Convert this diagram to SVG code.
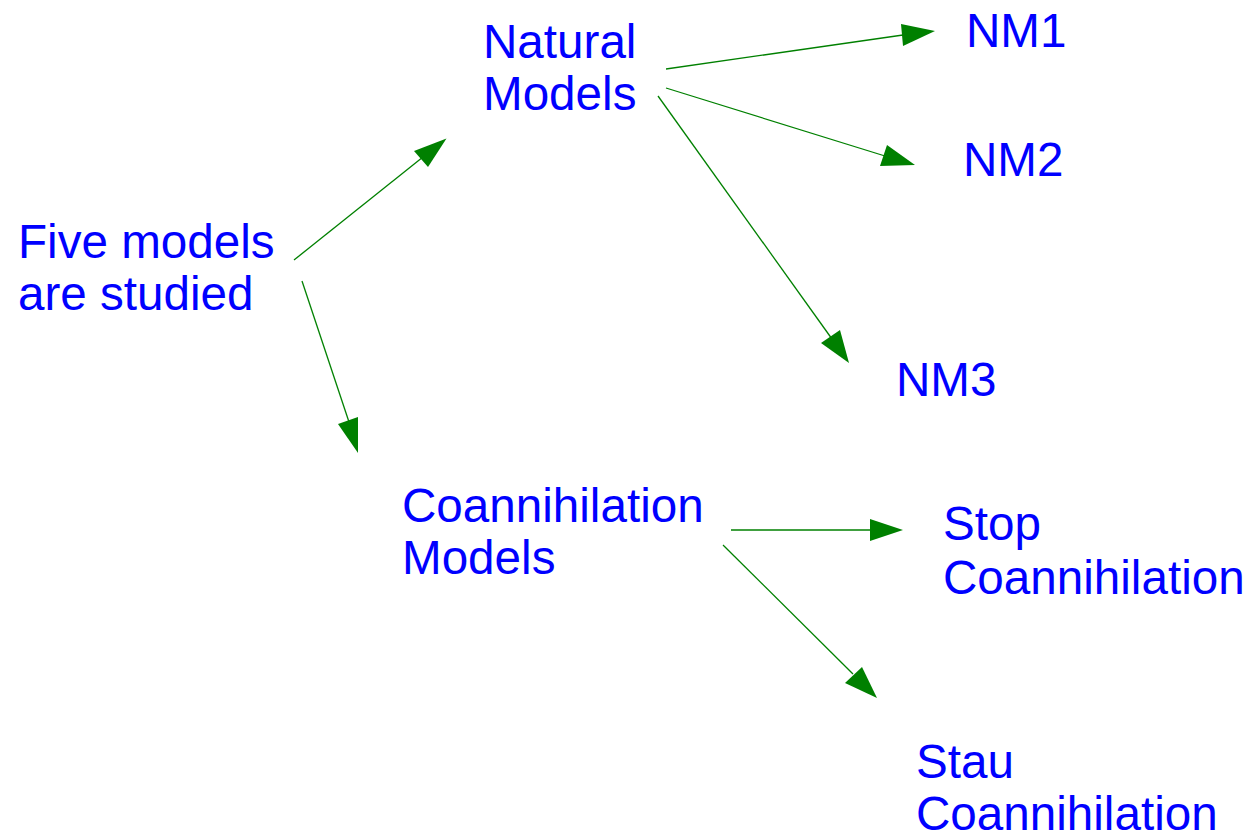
<svg xmlns="http://www.w3.org/2000/svg" width="1250" height="838" viewBox="0 0 1250 838">
<style>
.t{font-family:"Liberation Sans",Arial,sans-serif;font-size:47.6px;fill:#0000ff}
.c{stroke:#008000;stroke-width:1.3;fill:none}
.h{fill:#008000;stroke:none}
</style>
<rect width="1250" height="838" fill="#ffffff"/>
<g id="connectors">
<line class="c" x1="294" y1="260" x2="423" y2="157"/>
<polygon class="h" points="446.5,138.5 414,151 428,167"/>
<line class="c" x1="666" y1="69" x2="903" y2="35"/>
<polygon class="h" points="935,31 901,24 903,46"/>
<line class="c" x1="666" y1="88" x2="885" y2="156"/>
<polygon class="h" points="915,165 887,145 880,166"/>
<line class="c" x1="658" y1="96" x2="832" y2="339"/>
<polygon class="h" points="849,363 821,343 840,330"/>
<line class="c" x1="302" y1="281" x2="349" y2="422"/>
<polygon class="h" points="358,453 338,424 358,417"/>
<line class="c" x1="731" y1="530" x2="872" y2="530"/>
<polygon class="h" points="903,530 870,519 870,541"/>
<line class="c" x1="723" y1="545" x2="853" y2="674"/>
<polygon class="h" points="877,698 845,683 862,667"/>
</g>
<g id="n-five"><text class="t" x="18" y="258">Five models</text><text class="t" x="18" y="310">are studied</text></g>
<g id="n-natural"><text class="t" x="483" y="58">Natural</text><text class="t" x="483" y="110">Models</text></g>
<g id="n-nm1"><text class="t" x="966" y="47">NM1</text></g>
<g id="n-nm2"><text class="t" x="963" y="176">NM2</text></g>
<g id="n-nm3"><text class="t" x="896" y="396">NM3</text></g>
<g id="n-coann"><text class="t" x="402" y="522">Coannihilation</text><text class="t" x="402" y="574">Models</text></g>
<g id="n-stop"><text class="t" x="943" y="540">Stop</text><text class="t" x="943" y="594">Coannihilation</text></g>
<g id="n-stau"><text class="t" x="916" y="778">Stau</text><text class="t" x="916" y="830">Coannihilation</text></g>
</svg>
